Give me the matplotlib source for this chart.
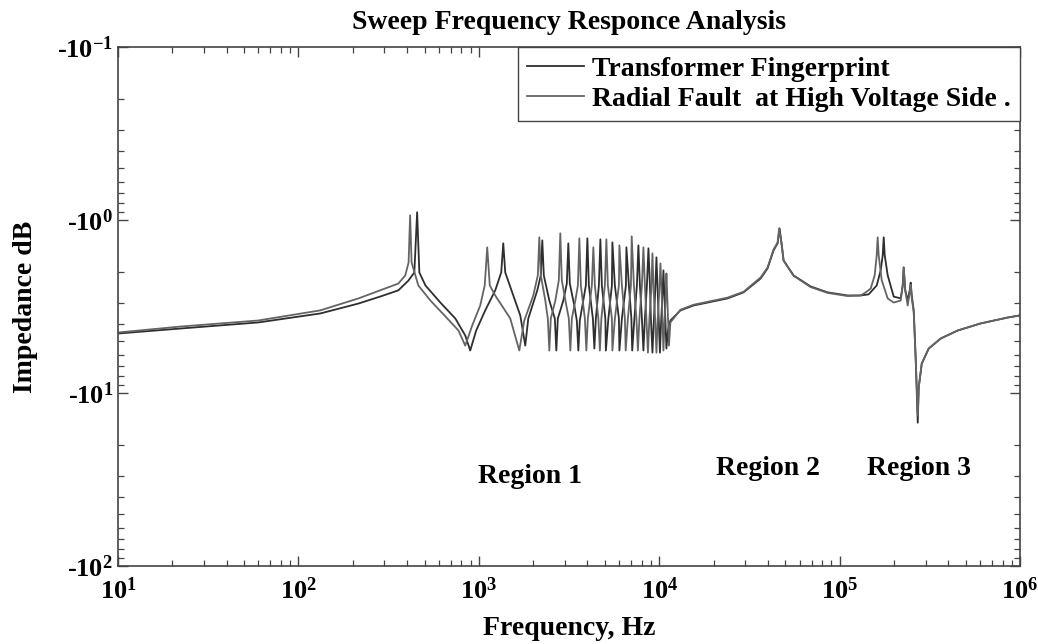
import matplotlib
matplotlib.use("Agg")
import matplotlib.pyplot as plt
from matplotlib.ticker import FixedLocator, FixedFormatter, LogLocator, NullFormatter

plt.rcParams['font.family'] = ['Liberation Serif', 'DejaVu Serif']
plt.rcParams['font.weight'] = 'bold'
plt.rcParams['mathtext.fontset'] = 'custom'
plt.rcParams['mathtext.rm'] = 'Liberation Serif:bold'
plt.rcParams['mathtext.bf'] = 'Liberation Serif:bold'
plt.rcParams['mathtext.it'] = 'Liberation Serif:bold'

# ---------------- data ----------------
fingerprint_freq_hz = [
    10, 22.1, 59.8, 132, 215, 284, 358, 407, 439, 455, 468, 506, 612, 741, 841, 896,
    967, 1085, 1233, 1331, 1366, 1401, 1532, 1697, 1809, 1880, 2109, 2206, 2248, 2292,
    2459, 2638, 2689, 2741, 2940, 3074, 3134, 3194, 3382, 3493, 3561, 3629, 3795, 3920,
    3996, 4073, 4287, 4369, 4454, 4628, 4718, 4808, 5027, 5061, 5225, 5464, 5500, 5677,
    5975, 6015, 6209, 6535, 6577, 6789, 7009, 7083, 7284, 7519, 7666, 7813, 8017, 8171,
    8329, 8545, 8712, 8880, 8994, 9169, 9346, 9502, 9650, 9797, 9936, 10090, 10260,
    10420, 10550, 10690, 10820, 10960, 11180, 11530,
    13110, 15480, 23900, 29330, 36450, 39850, 43030, 45300, 46450, 47650, 48900, 55550,
    69000, 85800, 110800, 130800,
    144800, 160500, 168900, 173300, 175500, 177800, 184700, 199400, 218000, 223700,
    226500, 231000, 238400, 244600, 247700, 251000, 257500, 264200, 271000, 274400,
    285200, 311800, 363500, 451800, 606000, 855700, 1000000]
fingerprint_impedance = [
    4.53, 4.24, 3.91, 3.47, 3.04, 2.77, 2.55, 2.24, 2.01, 0.902, 2.01, 2.39, 3.00, 3.71, 4.65, 5.68,
    4.35, 3.33, 2.55, 2.01, 1.364, 2.01, 2.62, 3.56, 5.32, 3.71, 2.55, 2.09, 1.311, 2.09,
    2.92, 3.71, 5.68, 3.71, 2.92, 2.33, 1.364, 2.33, 3.12, 3.81, 5.68, 3.81, 2.92, 2.39,
    1.276, 2.39, 3.71, 5.53, 3.71, 2.39, 1.293, 2.39, 3.71, 5.68, 3.71, 2.39, 1.346, 2.39,
    3.71, 5.68, 3.71, 2.39, 1.439, 2.39, 3.71, 5.68, 3.71, 2.39, 1.401, 2.39, 3.71, 5.68,
    3.71, 2.39, 1.458, 2.39, 3.71, 5.84, 3.71, 2.55, 1.644, 2.55, 3.71, 5.84, 3.71,
    2.73, 1.955, 2.73, 3.81, 5.53, 4.35, 3.81,
    3.33, 3.12, 2.84, 2.62, 2.18, 1.904, 1.498, 1.364, 1.117, 1.364, 1.712, 2.09,
    2.42, 2.62, 2.73, 2.73,
    2.69, 2.39, 1.955, 1.60, 1.259, 1.60, 2.09, 2.77, 2.84, 2.39,
    1.88, 2.55, 2.92, 2.55, 2.30, 2.73, 3.33, 6.49, 14.84, 9.30,
    6.76, 5.53, 4.84, 4.35, 3.96, 3.66, 3.56]

fault_freq_hz = [
    10, 22.1, 59.8, 132, 215, 284, 358, 391, 408, 416, 424, 462, 539, 653, 771, 841,
    919, 1018, 1078, 1113, 1150, 1233, 1494, 1676, 1786, 2004, 2123, 2164, 2206, 2336,
    2412, 2459, 2506, 2655, 2776, 2829, 2884, 3055, 3154, 3215, 3278, 3428, 3540, 3607,
    3678, 3871, 3945, 4021, 4231, 4313, 4397, 4598, 4688, 4778, 4996, 5093, 5192, 5464,
    5500, 5677, 5975, 6015, 6209, 6451, 6518, 6702, 6966, 7038, 7238, 7473, 7617, 7764,
    8017, 8171, 8329, 8492, 8656, 8823, 9029, 9169, 9310, 9490, 9650, 9811, 10000,
    10155, 10310, 10420, 10550, 10720, 10850, 10960, 11100, 11320, 11530,
    13110, 15480, 23900, 29330, 36450, 39850, 43030, 45300, 46200, 47650, 48900, 55550,
    69000, 85800, 110800, 130800,
    139400, 148600, 156400, 160500, 162500, 164600, 171100, 184700, 199400, 218000,
    223700, 226500, 231000, 238400, 244600, 247700, 251000, 257500, 264200, 271000,
    274400, 285200, 311800, 363500, 451800, 606000, 855700, 1000000]
fault_impedance = [
    4.47, 4.13, 3.81, 3.33, 2.84, 2.55, 2.33, 2.09, 1.76, 0.939, 1.76, 2.39, 2.92, 3.61, 4.35, 5.32,
    4.07, 3.12, 2.39, 1.439, 2.39, 2.73, 3.71, 5.68, 3.81, 2.73, 2.09, 1.259, 2.09, 2.92,
    3.71, 5.68, 3.71, 2.92, 2.23, 1.194, 2.23, 3.12, 3.71, 5.68, 3.71, 2.92, 2.39, 1.276,
    2.39, 3.71, 5.68, 3.71, 2.39, 1.439, 2.39, 3.71, 5.68, 3.71, 2.39, 1.293, 2.39, 3.71,
    5.68, 3.71, 2.39, 1.401, 2.39, 3.71, 5.68, 3.71, 2.39, 1.243, 2.39, 3.71, 5.68, 3.71,
    2.39, 1.439, 2.39, 3.71, 5.84, 3.71, 2.55, 1.559, 2.55, 3.71, 5.84, 3.71, 2.62,
    1.781, 2.62, 3.71, 5.68, 3.71, 2.92, 2.035, 2.92, 5.32, 3.91,
    3.30, 3.09, 2.81, 2.60, 2.15, 1.88, 1.48, 1.35, 1.12, 1.37, 1.72, 2.10,
    2.44, 2.64, 2.75, 2.73,
    2.62, 2.49, 2.09, 1.60, 1.259, 1.60, 2.23, 2.84, 3.00, 2.92,
    2.39, 1.88, 2.55, 3.12, 2.62, 2.36, 2.84, 3.43, 6.49, 13.5,
    9.30, 6.76, 5.53, 4.84, 4.35, 3.96, 3.66, 3.56]

series_labels = ["Transformer Fingerprint", "Radial Fault  at High Voltage Side ."]
x_tick_values = [1e1, 1e2, 1e3, 1e4, 1e5, 1e6]
x_tick_labels = [r"$\mathbf{10^{1}}$", r"$\mathbf{10^{2}}$", r"$\mathbf{10^{3}}$",
                 r"$\mathbf{10^{4}}$", r"$\mathbf{10^{5}}$", r"$\mathbf{10^{6}}$"]
y_tick_values = [0.1, 1, 10, 100]
y_tick_labels = [r"-$\mathbf{10^{-1}}$", r"-$\mathbf{10^{0}}$", r"-$\mathbf{10^{1}}$", r"-$\mathbf{10^{2}}$"]
region_labels = ["Region 1", "Region 2", "Region 3"]
region_freq_hz = [1.93e3, 4.0e4, 2.75e5]
region_impedance = [30.5, 27.2, 27.2]

# ---------------- figure ----------------
fig = plt.figure(figsize=(10.38, 6.44), dpi=100)
ax = fig.add_axes([0.1137, 0.1211, 0.8690, 0.8059])

ax.plot(fingerprint_freq_hz, fingerprint_impedance, color='#2e2e2e', lw=1.3,
        label=series_labels[0])
ax.plot(fault_freq_hz, fault_impedance, color='#646464', lw=1.3,
        label=series_labels[1])

ax.set_xscale('log')
ax.set_yscale('log')
ax.set_xlim(10, 1e6)
ax.set_ylim(100, 0.1)

ax.xaxis.set_major_locator(FixedLocator(x_tick_values))
ax.xaxis.set_major_formatter(FixedFormatter(x_tick_labels))
ax.xaxis.set_minor_locator(LogLocator(base=10, subs=range(2, 10), numticks=20))
ax.xaxis.set_minor_formatter(NullFormatter())
ax.yaxis.set_major_locator(FixedLocator(y_tick_values))
ax.yaxis.set_major_formatter(FixedFormatter(y_tick_labels))
ax.yaxis.set_minor_locator(LogLocator(base=10, subs=range(2, 10), numticks=20))
ax.yaxis.set_minor_formatter(NullFormatter())

ax.tick_params(which='both', direction='in', top=True, right=True, colors='#444444',
               labelcolor='black')
ax.tick_params(which='major', length=7, width=1.0, labelsize=19)
ax.tick_params(which='minor', length=4, width=0.9)
ax.tick_params(axis='x', which='major', pad=8)
for s in ax.spines.values():
    s.set_color('#444444')
    s.set_linewidth(1.2)

ax.set_title("Sweep Frequency Responce Analysis", fontsize=20, fontweight='bold', pad=13)
ax.set_xlabel("Frequency, Hz", fontsize=20, fontweight='bold', labelpad=9)
ax.set_ylabel("Impedance dB", fontsize=20, fontweight='bold', labelpad=14)

for lab, fx, fy in zip(region_labels, region_freq_hz, region_impedance):
    ax.text(fx, fy, lab, fontsize=20, fontweight='bold', ha='center', va='center')

leg = ax.legend(loc='upper right', borderaxespad=0, fancybox=False, framealpha=1,
                edgecolor='#444444', fontsize=20, handlelength=2.05, handletextpad=0.3,
                labelspacing=0.17, borderpad=0.33)
leg.get_frame().set_linewidth(1.0)
for t in leg.get_texts():
    t.set_fontweight('bold')

fig.savefig("out.png", dpi=100)
